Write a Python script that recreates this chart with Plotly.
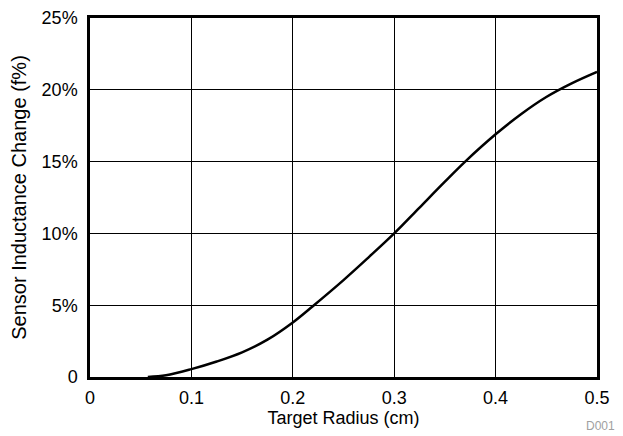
import plotly.graph_objects as go

radius_cm = [0.057, 0.075, 0.1, 0.125, 0.15, 0.175, 0.2, 0.22, 0.25, 0.275, 0.3,
             0.325, 0.35, 0.37, 0.4, 0.425, 0.45, 0.475, 0.5]
inductance_change_pct = [0.0, 0.12, 0.55, 1.08, 1.72, 2.6, 3.8, 4.95, 6.75, 8.35, 10.0,
                         11.8, 13.6, 15.0, 16.9, 18.3, 19.5, 20.45, 21.25]

x_ticks = [0, 0.1, 0.2, 0.3, 0.4, 0.5]
x_tick_text = ["0", "0.1", "0.2", "0.3", "0.4", "0.5"]
y_ticks = [0, 5, 10, 15, 20, 25]
y_tick_text = ["0", "5%", "10%", "15%", "20%", "25%"]

fig = go.Figure()
fig.add_trace(go.Scatter(
    x=radius_cm, y=inductance_change_pct, mode="lines",
    line=dict(color="black", width=2.5, shape="spline", smoothing=1.0),
    showlegend=False, hoverinfo="skip",
))

FAM = "Liberation Sans, Arial, Helvetica, sans-serif"
font = dict(family=FAM, size=18, color="black")
yfont = dict(family=FAM, size=20, color="black")

# page body has an 8px default margin, so the figure is sized to fit the window
fig.update_layout(
    width=615, height=428,
    margin=dict(l=82, r=26, t=10, b=59),
    paper_bgcolor="white", plot_bgcolor="white",
    font=font,
    xaxis=dict(
        range=[0, 0.5], tickvals=x_ticks, ticktext=x_tick_text,
        showgrid=True, gridcolor="black", gridwidth=1,
        showline=True, linecolor="black", linewidth=2.5, mirror=True,
        ticks="", zeroline=False, automargin=False,
        tickfont=font, ticklabelstandoff=3, ticklabeloverflow="allow",
        title=dict(text="Target Radius (cm)", font=font, standoff=1),
    ),
    yaxis=dict(
        range=[0, 25], tickvals=y_ticks, ticktext=y_tick_text,
        showgrid=True, gridcolor="black", gridwidth=1,
        showline=True, linecolor="black", linewidth=2.5, mirror=True,
        ticks="", zeroline=False, automargin=False,
        tickfont=font, ticklabelstandoff=6, ticklabeloverflow="allow",
        title=dict(text="Sensor Inductance Change (f%)", font=yfont, standoff=20),
    ),
    annotations=[dict(
        text="D001", xref="paper", yref="paper", x=1.04, y=-0.136,
        xanchor="right", yanchor="middle", showarrow=False,
        font=dict(family=FAM, size=12, color="#a0a0a0"),
    )],
)

fig.write_html("out.html")
